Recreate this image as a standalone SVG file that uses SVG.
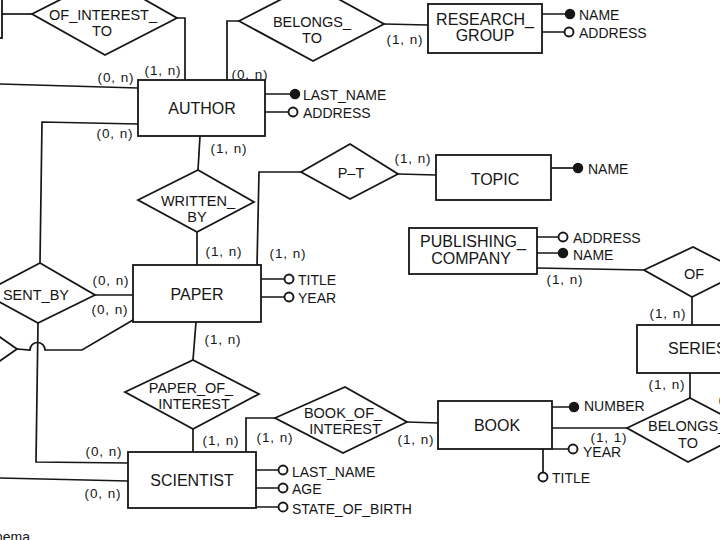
<svg xmlns="http://www.w3.org/2000/svg" width="720" height="540" viewBox="0 0 720 540">
<style>
.sh{fill:#fff;stroke:#161616;stroke-width:1.8}
.ln{fill:none;stroke:#161616;stroke-width:1.7}
.t{font-family:"Liberation Sans",Arial,sans-serif;fill:#161616}
.e{font-size:16px;text-anchor:middle}
.r{font-size:14.5px;text-anchor:middle}
.a{font-size:14px}
.c{font-size:13.5px;text-anchor:middle;letter-spacing:0.9px}
.id{fill:#161616;stroke:#161616;stroke-width:1.5}
.op{fill:#fff;stroke:#161616;stroke-width:1.9}
</style>
<rect width="720" height="540" fill="#fff"/>
<g id="connectors">
<path class="ln" d="M2 14 L32 14"/>
<path class="ln" d="M177 18 L185 18 L185 80"/>
<path class="ln" d="M0 84 L138 88"/>
<path class="ln" d="M138 124 L42 122 L40 263"/>
<path class="ln" d="M227 82 L227 21 L239 21"/>
<path class="ln" d="M384 24 L428 25"/>
<path class="ln" d="M200 136 L198 170"/>
<path class="ln" d="M197 232 L197 265"/>
<path class="ln" d="M257 266 L259 172 L301 172"/>
<path class="ln" d="M398 174 L436 175"/>
<path class="ln" d="M95 295 L133 295"/>
<path class="ln" d="M133 320 L82 350 L45 350 A7.5 7.5 0 0 0 30 350 L17 349"/>
<path class="ln" d="M38 323 L36 462 L128 463"/>
<path class="ln" d="M0 478 L128 481"/>
<path class="ln" d="M196 322 L193 360"/>
<path class="ln" d="M193 429 L193 452"/>
<path class="ln" d="M246 452 L246 418 L275 418"/>
<path class="ln" d="M407 422 L438 423"/>
<path class="ln" d="M552 428 L627 428"/>
<path class="ln" d="M537 268 L644 270"/>
<path class="ln" d="M692 297 L692 325"/>
<path class="ln" d="M690 373 L690 398"/>
<g class="t c">
<text x="116" y="82">(0, n)</text>
<text x="163" y="75">(1, n)</text>
<text x="250" y="79">(0, n)</text>
<text x="405" y="44">(1, n)</text>
<text x="115" y="138">(0, n)</text>
<text x="229" y="153">(1, n)</text>
<text x="413" y="163">(1, n)</text>
<text x="224" y="256">(1, n)</text>
<text x="288" y="258">(1, n)</text>
<text x="111" y="285">(0, n)</text>
<text x="110" y="314">(0, n)</text>
<text x="223" y="344">(1, n)</text>
<text x="221" y="445">(1, n)</text>
<text x="275" y="442">(1, n)</text>
<text x="416" y="444">(1, n)</text>
<text x="104" y="456">(0, n)</text>
<text x="103" y="498">(0, n)</text>
<text x="565" y="284">(1, n)</text>
<text x="668" y="318">(1, n)</text>
<text x="667" y="389">(1, n)</text>
<text x="609" y="442">(1, 1)</text>
<text x="737" y="404">(1, n)</text>
</g>
</g>
<g id="left_entity"><rect class="sh" x="-100" y="-20" width="102" height="58"/></g>
<g id="of_interest_to">
<polygon class="sh" points="32,14 105,-23 177,18 105,55"/>
<text class="t r" x="103" y="20">OF_INTEREST_</text>
<text class="t r" x="102" y="36">TO</text>
</g>
<g id="belongs_to_rg">
<polygon class="sh" points="239,21 311,-16 384,24 313,61"/>
<text class="t r" x="312" y="27">BELONGS_</text>
<text class="t r" x="312" y="43">TO</text>
</g>
<g id="research_group">
<rect class="sh" x="428" y="4" width="114" height="49"/>
<text class="t e" x="485" y="25">RESEARCH_</text>
<text class="t e" x="485" y="41">GROUP</text>
<path class="ln" d="M542 14 L565 14 M542 32 L564 32"/>
<circle class="id" cx="570" cy="14" r="4.5"/>
<circle class="op" cx="569" cy="32" r="4.5"/>
<text class="t a" x="579" y="20">NAME</text>
<text class="t a" x="579" y="38">ADDRESS</text>
</g>
<g id="author">
<rect class="sh" x="138" y="80" width="127" height="56"/>
<text class="t e" x="202" y="114">AUTHOR</text>
<path class="ln" d="M265 94 L290 94 M265 112 L288 112"/>
<circle class="id" cx="295" cy="94" r="4.5"/>
<circle class="op" cx="293" cy="112" r="4.5"/>
<text class="t a" x="303" y="100">LAST_NAME</text>
<text class="t a" x="303" y="118">ADDRESS</text>
</g>
<g id="written_by">
<polygon class="sh" points="138,200 198,170 254,202 197,232"/>
<text class="t r" x="198" y="206">WRITTEN_</text>
<text class="t r" x="197" y="222">BY</text>
</g>
<g id="p_t">
<polygon class="sh" points="301,172 350,144 398,174 350,199"/>
<text class="t r" x="351" y="178">P–T</text>
</g>
<g id="topic">
<rect class="sh" x="436" y="155" width="115" height="45"/>
<text class="t e" x="495" y="185">TOPIC</text>
<path class="ln" d="M551 168 L573 168"/>
<circle class="id" cx="578" cy="168" r="4.5"/>
<text class="t a" x="588" y="174">NAME</text>
</g>
<g id="publishing_company">
<rect class="sh" x="409" y="228" width="128" height="46"/>
<text class="t e" x="473" y="247">PUBLISHING_</text>
<text class="t e" x="471" y="264">COMPANY</text>
<path class="ln" d="M537 237 L558 237 M537 253 L558 253"/>
<circle class="op" cx="563" cy="237" r="4.5"/>
<circle class="id" cx="563" cy="253" r="4.5"/>
<text class="t a" x="573" y="243">ADDRESS</text>
<text class="t a" x="573" y="260">NAME</text>
</g>
<g id="of">
<polygon class="sh" points="644,270 693,247 742,272 692,297"/>
<text class="t r" x="694" y="279">OF</text>
</g>
<g id="series">
<rect class="sh" x="637" y="325" width="110" height="48"/>
<text class="t e" x="668" y="354" style="text-anchor:start">SERIES</text>
</g>
<g id="sent_by">
<polygon class="sh" points="-17,293 40,263 95,295 38,323"/>
<text class="t r" x="36" y="300">SENT_BY</text>
</g>
<g id="left_relationship"><polygon class="sh" points="17,349 -20,323 -57,349 -20,375"/></g>
<g id="paper">
<rect class="sh" x="133" y="265" width="128" height="57"/>
<text class="t e" x="197" y="300">PAPER</text>
<path class="ln" d="M261 279 L284 279 M261 297 L284 297"/>
<circle class="op" cx="289" cy="279" r="4.5"/>
<circle class="op" cx="289" cy="297" r="4.5"/>
<text class="t a" x="298" y="285">TITLE</text>
<text class="t a" x="298" y="303">YEAR</text>
</g>
<g id="paper_of_interest">
<polygon class="sh" points="125,392 193,360 259,394 193,429"/>
<text class="t r" x="191" y="393">PAPER_OF_</text>
<text class="t r" x="194" y="409">INTEREST</text>
</g>
<g id="scientist">
<rect class="sh" x="128" y="452" width="128" height="56"/>
<text class="t e" x="192" y="486">SCIENTIST</text>
<path class="ln" d="M256 470 L278 470 M256 488 L278 488 M256 507 L278 507"/>
<circle class="op" cx="283" cy="470" r="4.5"/>
<circle class="op" cx="283" cy="488" r="4.5"/>
<circle class="op" cx="283" cy="507" r="4.5"/>
<text class="t a" x="292" y="477">LAST_NAME</text>
<text class="t a" x="292" y="494">AGE</text>
<text class="t a" x="292" y="514">STATE_OF_BIRTH</text>
</g>
<g id="book_of_interest">
<polygon class="sh" points="275,418 345,387 407,422 343,453"/>
<text class="t r" x="343" y="418">BOOK_OF_</text>
<text class="t r" x="345" y="434">INTEREST</text>
</g>
<g id="book">
<rect class="sh" x="438" y="401" width="114" height="48"/>
<text class="t e" x="497" y="431">BOOK</text>
<path class="ln" d="M552 407 L569 407 M552 449 L568 449 M543 449 L543 472"/>
<circle class="id" cx="574" cy="407" r="4.5"/>
<circle class="op" cx="573" cy="449" r="4.5"/>
<circle class="op" cx="543" cy="477" r="4.5"/>
<text class="t a" x="584" y="411">NUMBER</text>
<text class="t a" x="583" y="457">YEAR</text>
<text class="t a" x="552" y="483">TITLE</text>
</g>
<g id="belongs_to_series">
<polygon class="sh" points="627,428 690,398 751,430 688,462"/>
<text class="t r" x="648" y="431" style="text-anchor:start">BELONGS_</text>
<text class="t r" x="688" y="448">TO</text>
</g>
<text class="t" x="-5" y="542" font-size="14">hema</text>
</svg>
